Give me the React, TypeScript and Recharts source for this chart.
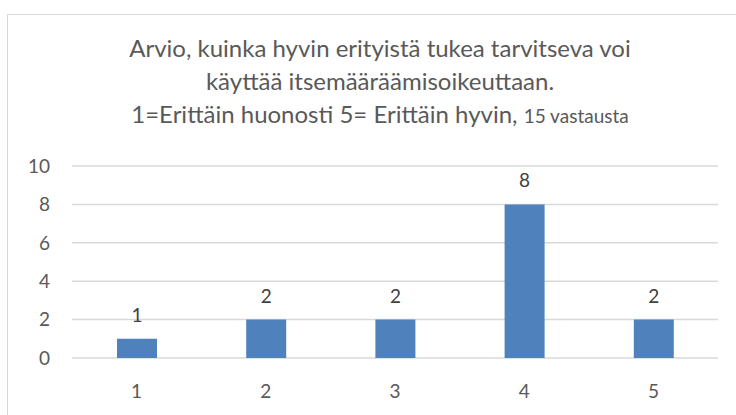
import { BarChart, Bar, XAxis, YAxis, CartesianGrid, LabelList } from "recharts";

const categories = ["1", "2", "3", "4", "5"];
const answers = [1, 2, 2, 8, 2];
const yTicks = [0, 2, 4, 6, 8, 10];

const data = categories.map((name, i) => ({ name, value: answers[i] }));

const FONT = "Lato, 'Open Sans', sans-serif";
const TEXT = "#595959";

export default function App() {
  return (
    <div style={{ position: "absolute", left: 0, top: 0, width: 736, height: 415, overflow: "hidden", background: "#fff", fontFamily: FONT }}>
      <div style={{ position: "absolute", left: 7, top: 14, width: 800, height: 460, border: "1px solid #d9d9d9" }} />
      <div style={{ position: "absolute", left: 0, top: 31, width: 760, textAlign: "center", color: TEXT, fontSize: 24, lineHeight: "33px" }}>
        <div>Arvio, kuinka hyvin erityistä tukea tarvitseva voi</div>
        <div>käyttää itsemääräämisoikeuttaan.</div>
        <div>
          1=Erittäin huonosti 5= Erittäin hyvin, <span style={{ fontSize: 19 }}>15 vastausta</span>
        </div>
      </div>
      <div style={{ position: "absolute", left: 0, top: 0 }}>
        <BarChart width={736} height={415} data={data} margin={{ top: 166, right: 18, bottom: 0, left: 0 }}>
          <CartesianGrid horizontal vertical={false} stroke="#d9d9d9" strokeWidth={1.5} />
          <XAxis
            dataKey="name"
            axisLine={false}
            tickLine={false}
            tickSize={0}
            tickMargin={27}
            height={57}
            tick={{ fill: TEXT, fontSize: 19, fontFamily: FONT }}
          />
          <YAxis
            domain={[0, 10]}
            ticks={yTicks}
            axisLine={false}
            tickLine={false}
            tickSize={0}
            tickMargin={22}
            width={72}
            tick={{ fill: TEXT, fontSize: 19, fontFamily: FONT }}
          />
          <Bar dataKey="value" fill="#4f81bd" barSize={40} isAnimationActive={false}>
            <LabelList dataKey="value" position="top" offset={17} fill="#404040" fontSize={19} fontFamily={FONT} />
          </Bar>
        </BarChart>
      </div>
    </div>
  );
}
